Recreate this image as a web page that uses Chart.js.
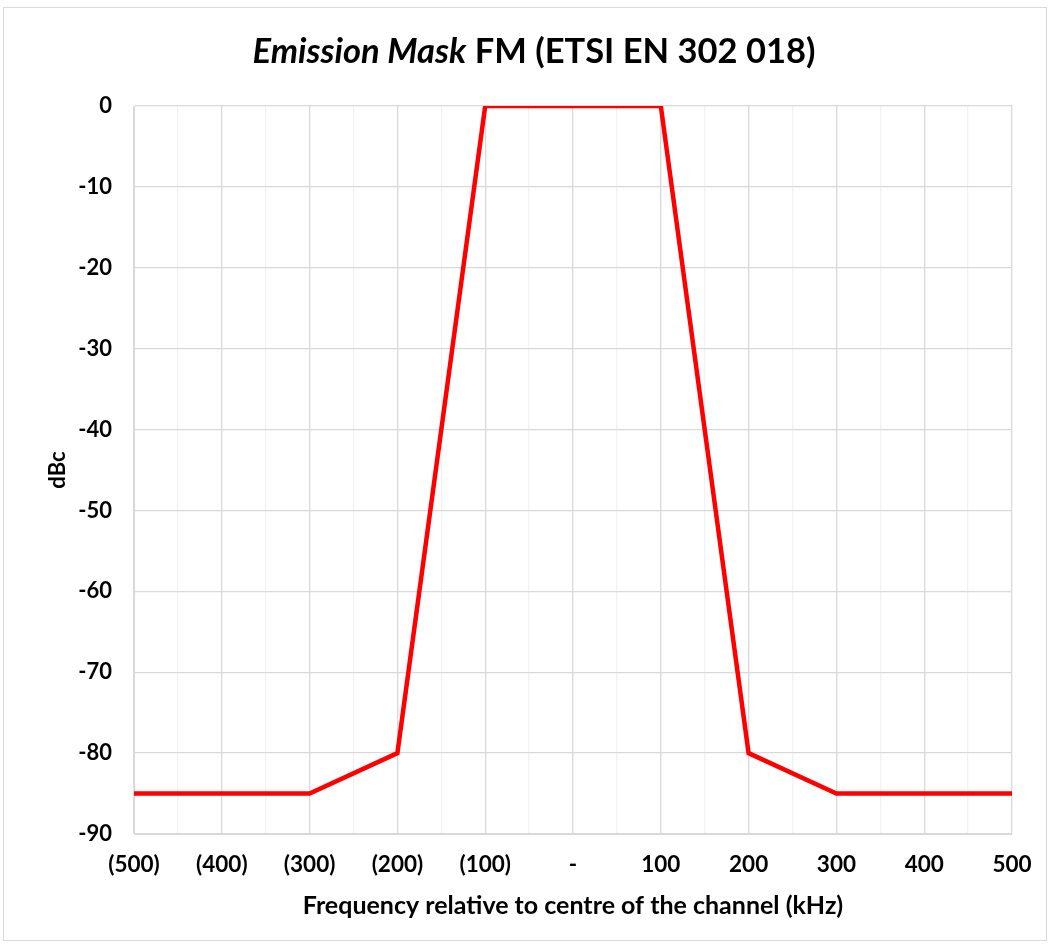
<!DOCTYPE html>
<html>
<head>
<meta charset="utf-8">
<script src="https://cdn.jsdelivr.net/npm/chart.js@4/dist/chart.umd.min.js"></script>
<style>
  body { margin: 0; background: #fff; }
  #wrap { position: relative; width: 1050px; height: 945px; }
  #frame { position: absolute; left: 3px; top: 7px; width: 1042px; height: 932px; border: 1px solid #d9d9d9; pointer-events: none; }
</style>
</head>
<body>
<div id="wrap">
  <canvas id="maskChart" width="1050" height="945"></canvas>
  <div id="frame"></div>
</div>
<script>
// frequency offset from the channel centre (kHz) and mask level (dBc)
const freqs = [-500, -300, -200, -100, 100, 200, 300, 500];
const levels = [-85, -85, -80, 0, 0, -80, -85, -85];

const titleItalic = 'Emission Mask';
const titleRest = ' FM (ETSI EN 302 018)';
const xTitle = 'Frequency relative to centre of the channel (kHz)';
const yTitle = 'dBc';

const FONT = 'Lato, "Open Sans", sans-serif';

function freqLabel(v) {
    if (v % 100 != 0) return '';
    if (v == 0) return '-';
    if (v < 0) return '(' + (-v) + ')';
    return String(v);
}

// title with mixed italic / upright parts
const mixedTitle = {
    id: 'mixedTitle',
    afterDraw(chart) {
        const ctx = chart.ctx;
        const f1 = 'italic bold 34.5px ' + FONT;
        const f2 = 'bold 34.5px ' + FONT;
        ctx.save();
        ctx.fillStyle = '#000';
        ctx.textBaseline = 'middle';
        ctx.font = f1;
        const w1 = ctx.measureText(titleItalic).width;
        ctx.font = f2;
        const w2 = ctx.measureText(titleRest).width;
        let x = 534 - (w1 + w2) / 2;
        const y = 52;
        ctx.font = f1;
        ctx.fillText(titleItalic, x, y);
        ctx.font = f2;
        ctx.fillText(titleRest, x + w1, y);
        ctx.restore();
    }
};

const config = {
    type: 'line',
    data: {
        datasets: [{
            data: freqs.map((f, i) => ({x: f, y: levels[i]})),
            borderColor: '#ff0000',
            borderWidth: 4.5,
            pointRadius: 0,
            fill: false,
            tension: 0,
        }]
    },
    options: {
        responsive: false,
        animation: false,
        layout: {
            padding: {left: 45, right: 38, top: 106, bottom: 24}
        },
        plugins: {
            legend: {display: false},
            title: {display: false},
            tooltip: {enabled: false},
        },
        scales: {
            x: {
                type: 'linear',
                min: -500,
                max: 500,
                afterFit: (s) => { s.height = 945 - 834 - 24; },
                border: {color: '#d9d9d9', width: 1},
                grid: {
                    drawTicks: false,
                    color: (c) => (c.tick && c.tick.value % 100 == 0) ? '#d9d9d9' : '#f2f2f2',
                    lineWidth: 1.3,
                },
                ticks: {
                    stepSize: 50,
                    autoSkip: false,
                    maxRotation: 0,
                    padding: 17,
                    color: '#000',
                    font: {family: FONT, size: 22.5, weight: 'bold'},
                    callback: (v) => freqLabel(v),
                },
                title: {
                    display: true,
                    text: xTitle,
                    color: '#000',
                    padding: 0,
                    font: {family: FONT, size: 25, weight: 'bold'},
                },
            },
            y: {
                min: -90,
                max: 0,
                afterFit: (s) => { s.width = 134 - 45; },
                border: {color: '#d9d9d9', width: 1},
                grid: {
                    drawTicks: false,
                    color: '#d9d9d9',
                    lineWidth: 1.3,
                },
                ticks: {
                    stepSize: 10,
                    padding: 22,
                    color: '#000',
                    font: {family: FONT, size: 22, weight: 'bold'},
                },
                title: {
                    display: true,
                    text: yTitle,
                    color: '#000',
                    padding: 0,
                    font: {family: FONT, size: 22, weight: 'bold'},
                },
            },
        },
    },
    plugins: [mixedTitle],
};

new Chart(document.getElementById('maskChart').getContext('2d'), config);
</script>
</body>
</html>
